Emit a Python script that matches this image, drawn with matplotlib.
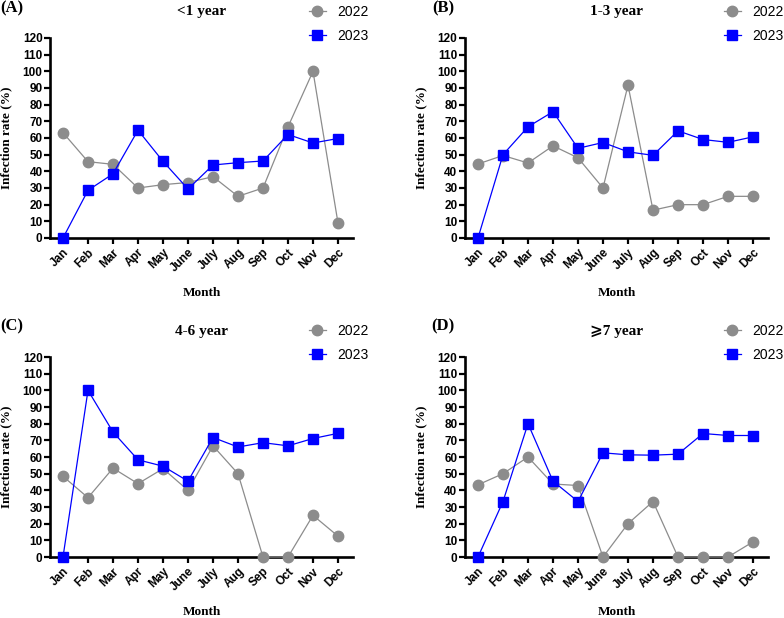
import matplotlib
matplotlib.use("Agg")
import matplotlib.pyplot as plt
import numpy as np

months = ["Jan", "Feb", "Mar", "Apr", "May", "June",
          "July", "Aug", "Sep", "Oct", "Nov", "Dec"]

# infection rate (%) per age group
lt1_2022 = [63.2, 45.8, 44.2, 30.0, 32.0, 33.3, 36.8, 25.0, 30.0, 66.7, 100.0, 9.0]
lt1_2023 = [0.0, 28.6, 38.5, 64.7, 46.0, 29.4, 43.8, 45.2, 46.2, 62.1, 57.0, 59.7]

y13_2022 = [44.4, 49.5, 45.0, 55.3, 48.1, 30.0, 91.7, 16.7, 20.0, 20.0, 25.0, 25.0]
y13_2023 = [0.0, 50.0, 66.7, 75.8, 53.8, 57.3, 51.7, 49.6, 64.3, 59.1, 57.4, 60.7]

y46_2022 = [48.4, 35.6, 53.3, 44.0, 53.0, 40.0, 66.7, 50.0, 0.0, 0.0, 25.0, 12.5]
y46_2023 = [0.0, 100.0, 75.0, 58.3, 54.5, 45.5, 71.7, 66.0, 68.6, 66.7, 71.1, 74.2]

ge7_2022 = [43.3, 50.0, 60.0, 43.8, 42.9, 0.0, 20.0, 33.3, 0.0, 0.0, 0.0, 9.1]
ge7_2023 = [0.0, 33.3, 80.0, 45.5, 33.3, 62.5, 61.3, 61.1, 61.7, 74.1, 72.9, 72.9]

panels = [
    ("(A)", "<1 year", lt1_2022, lt1_2023),
    ("(B)", "1-3 year", y13_2022, y13_2023),
    ("(C)", "4-6 year", y46_2022, y46_2023),
    ("(D)", "\u2a7e7 year", ge7_2022, ge7_2023),
]

W, H = 784, 618
fig = plt.figure(figsize=(W / 100, H / 100), dpi=100)

serif = ["Liberation Serif", "DejaVu Serif", "DejaVu Sans"]
sans = "Liberation Sans"

# axes placement in pixels: (y-axis x, x=0 baseline y)
origins = [(50, 238), (465, 238), (50, 557), (465, 557)]
letter_pos = [(12, 8), (443, 8), (12, 326), (443, 326)]
axw, axh = 303, 200

x = np.arange(len(months))

for (letter, title, s22, s23), (ox, oy), (lx, ly) in zip(panels, origins, letter_pos):
    ax = fig.add_axes([ox / W, 1 - oy / H, axw / W, axh / H])
    ax.plot(x, s22, color="#8c8c8c", lw=0.9, marker="o", ms=7.5,
            mec="#8c8c8c", mfc="#8c8c8c", label="2022", clip_on=False, zorder=3)
    ax.plot(x, s23, color="#0000ff", lw=0.9, marker="s", ms=7,
            mec="#0000ff", mfc="#0000ff", label="2023", clip_on=False, zorder=4)

    ax.set_xlim(-0.52, 11.6)
    ax.set_ylim(0, 120)
    ax.set_yticks(np.arange(0, 121, 10))
    ax.set_xticks(x)
    ax.set_xticklabels(months, rotation=45, ha="right", rotation_mode="anchor")

    for side in ("top", "right"):
        ax.spines[side].set_visible(False)
    for side in ("left", "bottom"):
        ax.spines[side].set_linewidth(1.9)
    ax.tick_params(direction="out", length=4.2, width=1.6, pad=1.2)
    ax.tick_params(axis="x", pad=2.0)
    for lab in ax.get_xticklabels() + ax.get_yticklabels():
        lab.set_fontfamily(sans)
        lab.set_fontweight("bold")
        lab.set_fontsize(8.5)

    ax.set_xlabel("Month", family=serif, weight="bold", fontsize=9.5)
    ax.set_ylabel("Infection rate (%)", family=serif, weight="bold", fontsize=9.5)
    ax.xaxis.set_label_coords(0.5, -0.245)
    ax.yaxis.set_label_coords(-0.125, 0.5)

    ax.text(0.5, 1.13, title, transform=ax.transAxes, ha="center", va="center",
            family=serif, weight="bold", fontsize=11)
    fig.text(lx / W, 1 - ly / H, letter, ha="center", va="center",
             family=serif, weight="bold", fontsize=12)

    ax.legend(loc="upper left", bbox_to_anchor=(0.855, 1.165), frameon=False,
              prop={"family": sans, "size": 10}, handlelength=1.2,
              handletextpad=0.8, labelspacing=0.7, borderpad=0, borderaxespad=0)

fig.savefig("out.png", dpi=100)
